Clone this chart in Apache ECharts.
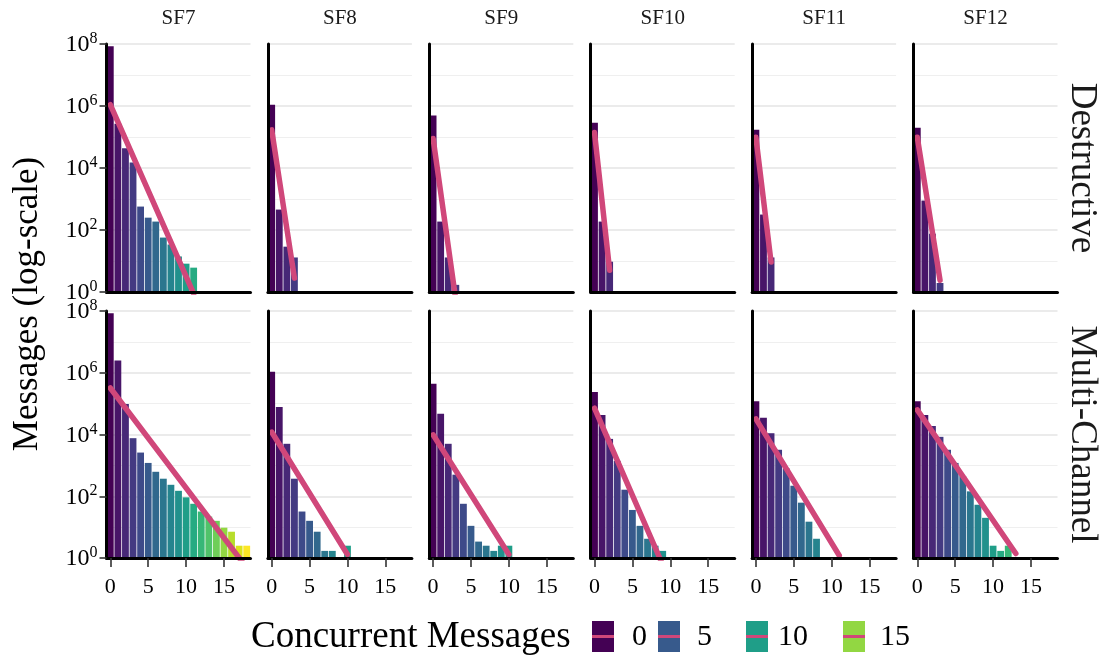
<!DOCTYPE html>
<html><head><meta charset="utf-8">
<script src="https://cdn.jsdelivr.net/npm/echarts@6/dist/echarts.min.js"></script>
<style>html,body{margin:0;padding:0;background:#fff}#c{width:1106px;height:659px}</style>
</head><body><div id="c"></div>
<script>
// ---------- data ----------
const spreadingFactors = ['SF7', 'SF8', 'SF9', 'SF10', 'SF11', 'SF12'];
const modes = ['Destructive', 'Multi-Channel'];
const xTickValues = [0, 5, 10, 15];
const yLabelTicks = [1, 1e2, 1e4, 1e6, 1e8];
const yMinorTicks = [1e1, 1e3, 1e5, 1e7];
const legendValues = [0, 5, 10, 15];
const colorDomainMax = 18;

// message counts, index = number of concurrent messages (null = none)
const destructiveSF7  = [8.5e7, 2.7e5, 4.3e4, 1.5e4, 570, 250, 187, 57, 34, 14, 8.2, 6.1];
const destructiveSF8  = [1.1e6, 456, 29, 13];
const destructiveSF9  = [4.9e5, 187, 13, 1.7];
const destructiveSF10 = [2.9e5, 187, 9.5];
const destructiveSF11 = [1.7e5, 315, 13];
const destructiveSF12 = [2.0e5, 890, 76, 1.95];

const multiSF7  = [8.4e7, 2.5e6, 9.8e4, 7.6e3, 2.6e3, 1.2e3, 620, 370, 235, 150, 92, 57, 32, 22, 16, 9.6, 7.1, 2.5, 2.5];
const multiSF8  = [1.07e6, 7.8e4, 5.0e3, 370, 32, 16, 7.1, 1.7, 1.7, null, 2.5];
const multiSF9  = [4.4e5, 4.7e4, 5.0e3, 500, 57, 11, 3.4, 2.5, 1.7, 2.5, 2.5];
const multiSF10 = [2.4e5, 4.3e4, 7.2e3, 1.4e3, 163, 36, 11, 4.2, 2.5, 1.7];
const multiSF11 = [1.2e5, 3.5e4, 1.1e4, 3.2e3, 800, 219, 62, 15, 4.2, 1, 1, 1];
const multiSF12 = [1.2e5, 4.3e4, 1.9e4, 8.4e3, 3.2e3, 1.2e3, 450, 144, 53, 20, 2.5, 1.7, 2.5, 1];

// fitted lines: [x, messages] end points
const fitDestructiveSF7  = [[0, 1.1e6], [11, 0.88]];
const fitDestructiveSF8  = [[0, 1.7e5], [3, 2.8]];
const fitDestructiveSF9  = [[0, 9.0e4], [3, 0.55]];
const fitDestructiveSF10 = [[0, 1.4e5], [2, 5.0]];
const fitDestructiveSF11 = [[0, 9.8e4], [2, 9.3]];
const fitDestructiveSF12 = [[0, 9.8e4], [3, 2.4]];
const fitMultiSF7  = [[0, 3.2e5], [18, 0.48]];
const fitMultiSF8  = [[0, 1.2e4], [10, 1.3]];
const fitMultiSF9  = [[0, 9.8e3], [10, 1.3]];
const fitMultiSF10 = [[0, 7.1e4], [9, 0.6]];
const fitMultiSF11 = [[0, 3.2e4], [11, 1.2]];
const fitMultiSF12 = [[0, 6.3e4], [13, 1.4]];

const counts = [
  [destructiveSF7, destructiveSF8, destructiveSF9, destructiveSF10, destructiveSF11, destructiveSF12],
  [multiSF7, multiSF8, multiSF9, multiSF10, multiSF11, multiSF12]
];
const fits = [
  [fitDestructiveSF7, fitDestructiveSF8, fitDestructiveSF9, fitDestructiveSF10, fitDestructiveSF11, fitDestructiveSF12],
  [fitMultiSF7, fitMultiSF8, fitMultiSF9, fitMultiSF10, fitMultiSF11, fitMultiSF12]
];

// ---------- styling ----------
const FONT = '"Liberation Serif", "DejaVu Serif", serif';
const LINE_COLOR = '#d0477a';
const VIRIDIS = ['#440154','#48186a','#472d7b','#424086','#3b528b','#33638d','#2c728e','#26828e',
  '#21918c','#1fa088','#28ae80','#3fbc73','#5ec962','#84d44b','#addc30','#d8e219','#fde725'];
function hexToRgb(h){return [parseInt(h.slice(1,3),16),parseInt(h.slice(3,5),16),parseInt(h.slice(5,7),16)];}
function viridis(t){
  t = Math.max(0, Math.min(1, t));
  const p = t * (VIRIDIS.length - 1), i = Math.min(Math.floor(p), VIRIDIS.length - 2), f = p - i;
  const a = hexToRgb(VIRIDIS[i]), b = hexToRgb(VIRIDIS[i + 1]);
  return 'rgb(' + a.map((v, k) => Math.round(v + (b[k] - v) * f)).join(',') + ')';
}

const panelLeft0 = 106.5, panelStep = 161.4, panelWidth = 144;
const rowTop = [44, 311], rowHeight = [248, 247];

const grid = [], xAxis = [], yAxis = [], series = [], graphic = [];
modes.forEach((mode, r) => {
  spreadingFactors.forEach((sf, c) => {
    const g = r * spreadingFactors.length + c;
    grid.push({left: panelLeft0 + c * panelStep, top: rowTop[r], width: panelWidth, height: rowHeight[r]});
    xAxis.push({
      gridIndex: g, type: 'value', min: -0.5, max: 18.5, position: 'bottom', z: 5,
      axisLine: {show: true, onZero: false, lineStyle: {color: '#000', width: 3}},
      axisTick: {show: r === 1, customValues: xTickValues, length: 9, lineStyle: {color: '#333', width: 1.6}},
      axisLabel: {show: r === 1, customValues: xTickValues, fontFamily: FONT, fontSize: 22, color: '#000', margin: 18},
      splitLine: {show: false}
    });
    // visible axis
    yAxis.push({
      gridIndex: g, type: 'log', logBase: 10, min: 1, max: 1e8, position: 'left', z: 5,
      axisLine: {show: true, onZero: false, lineStyle: {color: '#000', width: 3}},
      axisTick: {show: c === 0, customValues: yLabelTicks, length: 7, lineStyle: {color: '#333', width: 1.6}},
      axisLabel: {
        show: c === 0, customValues: yLabelTicks, margin: 9,
        formatter: v => '{b|10}{s|' + Math.round(Math.log10(v)) + '}',
        rich: {
          b: {fontFamily: FONT, fontSize: 24, color: '#000', verticalAlign: 'bottom', lineHeight: 26},
          s: {fontFamily: FONT, fontSize: 16, color: '#000', verticalAlign: 'top', lineHeight: 26, padding: [0, 0, 13, 0]}
        }
      },
      splitLine: {show: false}
    });
    // major grid lines
    yAxis.push({
      gridIndex: g, type: 'log', logBase: 10, min: 1, max: 1e8, position: 'left', z: 0,
      axisLine: {show: false}, axisTick: {show: false, customValues: yLabelTicks}, axisLabel: {show: false},
      splitLine: {show: true, lineStyle: {color: '#ebebeb', width: 2}}
    });
    // minor grid lines
    yAxis.push({
      gridIndex: g, type: 'log', logBase: 10, min: 1, max: 1e8, position: 'left', z: 0,
      axisLine: {show: false}, axisTick: {show: false, customValues: yMinorTicks}, axisLabel: {show: false},
      splitLine: {show: true, lineStyle: {color: '#efefef', width: 1}}
    });
    const data = [];
    counts[r][c].forEach((v, i) => {
      if (v != null) data.push({value: [i, v], itemStyle: {color: viridis(i / colorDomainMax)}});
    });
    series.push({
      type: 'bar', xAxisIndex: g, yAxisIndex: 3 * g, data: data, barWidth: '90%', z: 2,
      silent: true, animation: false
    });
    series.push({
      type: 'line', xAxisIndex: g, yAxisIndex: 3 * g, data: fits[r][c], symbol: 'none', z: 3,
      clip: true, silent: true, animation: false,
      lineStyle: {color: LINE_COLOR, width: 5.5, cap: 'round'}
    });
    if (r === 0) {
      graphic.push({type: 'text', x: panelLeft0 + c * panelStep + panelWidth / 2, y: 18,
        style: {text: sf, font: '21px ' + FONT, fill: '#1a1a1a', textAlign: 'center', textVerticalAlign: 'middle'}});
    }
  });
  graphic.push({type: 'text', x: 1082, y: rowTop[r] + rowHeight[r] / 2, rotation: -Math.PI / 2,
    style: {text: mode, font: '37px ' + FONT, fill: '#1a1a1a', textAlign: 'center', textVerticalAlign: 'middle'}});
});

graphic.push({type: 'text', x: 28, y: 304, rotation: Math.PI / 2,
  style: {text: 'Messages (log-scale)', font: '35px ' + FONT, fill: '#000', textAlign: 'center', textVerticalAlign: 'middle'}});

// legend
graphic.push({type: 'text', x: 251, y: 637,
  style: {text: 'Concurrent Messages', font: '37px ' + FONT, fill: '#000', textAlign: 'left', textVerticalAlign: 'middle'}});
const keyX = [592, 658, 746, 843];
const keyLabelX = [632, 697, 778, 880];
legendValues.forEach((v, k) => {
  graphic.push({type: 'rect', shape: {x: keyX[k], y: 621, width: 22, height: 31},
    style: {fill: viridis(v / colorDomainMax)}});
  graphic.push({type: 'line', shape: {x1: keyX[k], y1: 636.5, x2: keyX[k] + 22, y2: 636.5},
    style: {stroke: LINE_COLOR, lineWidth: 3}});
  graphic.push({type: 'text', x: keyLabelX[k], y: 637,
    style: {text: String(v), font: '30px ' + FONT, fill: '#000', textAlign: 'left', textVerticalAlign: 'middle'}});
});

const chart = echarts.init(document.getElementById('c'), null, {renderer: 'canvas'});
chart.setOption({
  animation: false,
  backgroundColor: '#fff',
  grid: grid, xAxis: xAxis, yAxis: yAxis, series: series, graphic: graphic
});
</script></body></html>
